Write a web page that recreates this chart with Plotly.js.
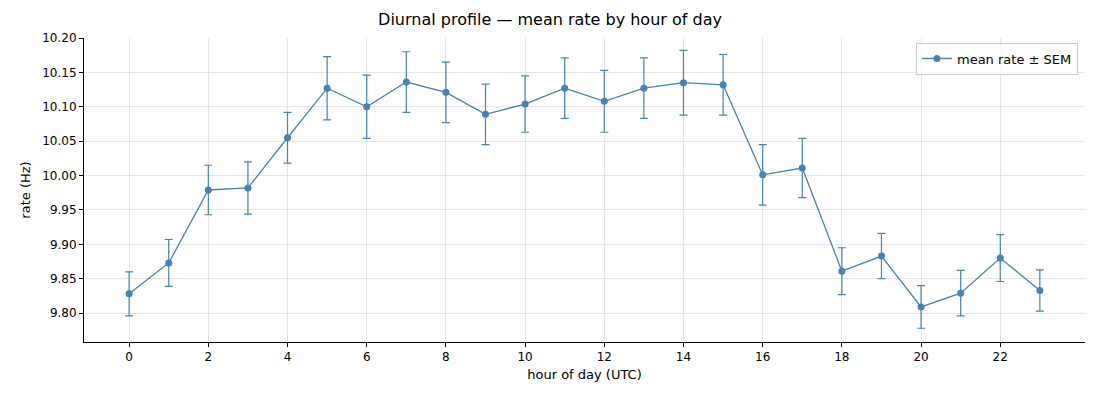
<!DOCTYPE html>
<html>
<head>
<meta charset="utf-8">
<script src="https://cdn.plot.ly/plotly-3.0.1.min.js"></script>
<style>body{margin:0}#chart{width:1100px;height:400px}</style>
</head>
<body>
<div id="chart"></div>
<script>
const hours=[0,1,2,3,4,5,6,7,8,9,10,11,12,13,14,15,16,17,18,19,20,21,22,23];
const meanRate=[9.828,9.873,9.979,9.982,10.055,10.127,10.100,10.136,10.121,10.089,10.104,10.127,10.108,10.127,10.135,10.132,10.001,10.011,9.861,9.883,9.809,9.829,9.880,9.833];
const sem=[0.032,0.034,0.036,0.038,0.037,0.046,0.046,0.044,0.044,0.044,0.041,0.044,0.045,0.044,0.047,0.044,0.044,0.043,0.034,0.033,0.031,0.033,0.034,0.030];

const trace={
    x:hours,
    y:meanRate,
    error_y:{type:"data",array:sem,visible:true,color:"#4682b4",thickness:1.2,width:4},
    mode:"lines+markers",
    name:"mean rate ± SEM",
    line:{color:"#4682b4",width:1.3},
    marker:{color:"#4682b4",size:7},
    type:"scatter"
};

const axisStyle={
    showline:true,linecolor:"#000",linewidth:1,
    ticks:"outside",ticklen:4,tickcolor:"#000",
    gridcolor:"#e6e6e6",zeroline:false,mirror:false
};

const layout={
    width:1100,height:400,
    paper_bgcolor:"#fff",plot_bgcolor:"#fff",
    font:{family:"DejaVu Sans",size:12,color:"#000"},
    title:{text:"Diurnal profile — mean rate by hour of day",font:{size:16},x:0.5,y:0.965},
    margin:{l:84,r:15,t:38,b:58},
    xaxis:Object.assign({},axisStyle,{range:[-1.14,24.14],tickvals:[0,2,4,6,8,10,12,14,16,18,20,22],
        title:{text:"hour of day (UTC)",font:{size:13},standoff:6}}),
    yaxis:Object.assign({},axisStyle,{range:[9.758,10.2],dtick:0.05,tickformat:".2f",
        title:{text:"rate (Hz)",font:{size:13},standoff:8}}),
    showlegend:true,
    legend:{x:0.993,xanchor:"right",y:0.985,yanchor:"top",bordercolor:"#ccc",borderwidth:1,bgcolor:"rgba(255,255,255,0.8)",font:{size:13},itemwidth:30,tracegroupgap:0}
};

Plotly.newPlot("chart",[trace],layout,{responsive:false,displayModeBar:false});
</script>
</body>
</html>
